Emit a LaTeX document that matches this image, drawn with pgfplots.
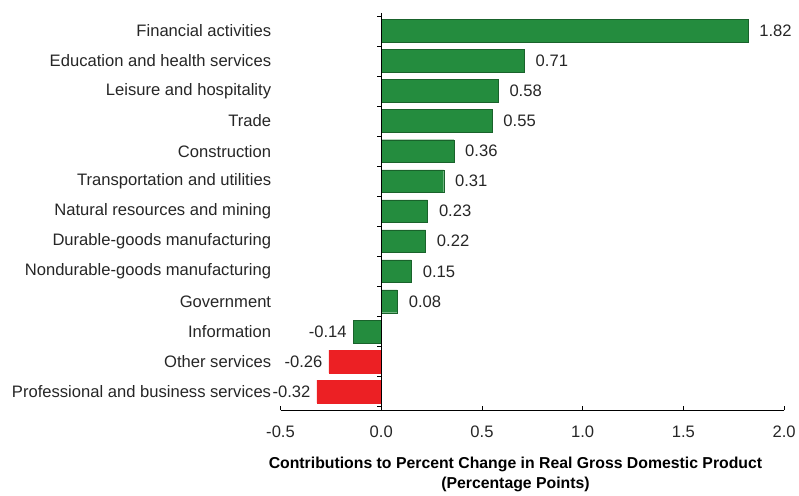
\documentclass[border=0pt]{standalone}
\usepackage{pgfplots}
\pgfplotsset{compat=1.18}
\usepackage{fontspec}
\setmainfont{Liberation Sans}
\definecolor{barg}{RGB}{36,140,62}
\definecolor{barr}{RGB}{236,32,36}
\begin{document}
\begin{tikzpicture}
\begin{axis}[
  scale only axis, width=508bp, height=401bp,
  xbar, bar width=23bp,
  xmin=-0.5, xmax=2.0, ymin=-0.6, ymax=12.63, y dir=reverse,
  clip=false,
  axis x line*=bottom, axis y line*=left,
  y axis line style={draw=none}, ytick style={draw=none},
  x axis line style={line width=0.8pt},
  xtick={-0.5,0,0.5,1,1.5,2},
  xtick style={black, line width=0.8pt}, tick align=inside, major tick length=4bp,
  /pgf/number format/assume math mode=true,
  xticklabel={\pgfmathprintnumber[fixed,fixed zerofill,precision=1]{\tick}},
  ytick={0,...,12},
  yticklabels={Financial activities,Education and health services,Leisure and hospitality,Trade,Construction,Transportation and utilities,Natural resources and mining,Durable-goods manufacturing,Nondurable-goods manufacturing,Government,Information,Other services,Professional and business services},
  ticklabel style={font=\fontsize{16.8}{19}\selectfont, text=black!85},
  yticklabel style={xshift=-6bp},
  xticklabel style={yshift=-12bp},
  xlabel={Contributions to Percent Change in Real Gross Domestic Product\\(Percentage Points)},
  xlabel style={align=center, font=\fontsize{16}{20.5}\selectfont\bfseries, xshift=-17bp, yshift=-13bp},
  point meta=x,
  nodes near coords={\pgfmathprintnumber[fixed,fixed zerofill,precision=2]{\pgfplotspointmeta}},
  nodes near coords style={font=\fontsize{16.8}{19}\selectfont, text=black!85},
]
\addplot[fill=barg, draw=barg!70!black, bar shift=0pt,
  every node near coord/.append style={anchor=west, xshift=8bp}]
  coordinates {(1.82,0) (0.71,1) (0.58,2) (0.55,3) (0.36,4) (0.31,5) (0.23,6) (0.22,7) (0.15,8) (0.08,9)};
\addplot[fill=barg, draw=barg!70!black, bar shift=0pt,
  every node near coord/.append style={anchor=east, xshift=-3bp}]
  coordinates {(-0.14,10)};
\addplot[fill=barr, draw=barr, bar shift=0pt,
  every node near coord/.append style={anchor=east, xshift=-3bp}]
  coordinates {(-0.26,11) (-0.32,12)};
\draw[line width=0.8pt] (axis cs:0,-0.6) -- (axis cs:0,12.63);
\pgfplotsinvokeforeach{-0.5,0.5,1.5,2.5,3.5,4.5,5.5,6.5,7.5,8.5,9.5,10.5,11.5,12.5}{
  \draw[line width=0.8pt] (axis cs:0,#1) -- ([xshift=-4bp]axis cs:0,#1);
}
\end{axis}
\pgfresetboundingbox
\useasboundingbox ([xshift=-283bp,yshift=13bp]current axis.north west) rectangle ([xshift=15bp,yshift=-86bp]current axis.south east);
\end{tikzpicture}
\end{document}
